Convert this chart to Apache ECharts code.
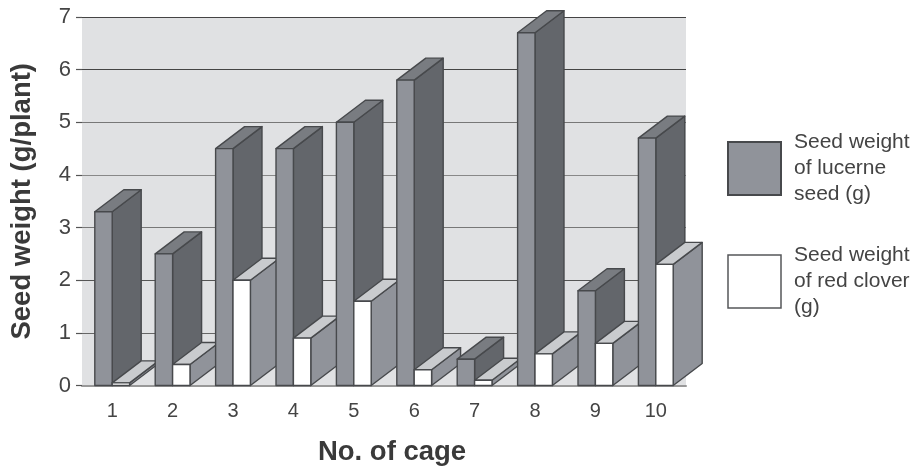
<!DOCTYPE html>
<html>
<head>
<meta charset="utf-8">
<style>html,body{margin:0;padding:0;background:#fff}#c{width:916px;height:469px}</style>
<script src="https://cdn.jsdelivr.net/npm/echarts@6/dist/echarts.min.js"></script>
</head>
<body>
<div id="c"></div>
<script>
const cages = ['1','2','3','4','5','6','7','8','9','10'];
const lucerne = [3.3,2.5,4.5,4.5,5.0,5.8,0.5,6.7,1.8,4.7];
const clover = [0.05,0.4,2.0,0.9,1.6,0.3,0.1,0.6,0.8,2.3];
const yTicks = [0,1,2,3,4,5,6,7];

const FONT = '"Liberation Sans", Arial, sans-serif';
const EDGE = '#47494c';
const GRAY = '#90939a';

function box3d(side, colors, order) {
  return function (params, api) {
    const idx = api.value(0);
    const base = api.coord([idx, 0]);
    const top = api.coord([idx, api.value(1)]);
    const band = api.size([1, 0])[0];
    const w = band * 0.288;
    const dx = band * 0.48;
    const dy = 22;
    const x0 = side < 0 ? base[0] - w : base[0];
    const x1 = x0 + w;
    const style = c => ({ fill: c, stroke: EDGE, lineWidth: 1.4, lineJoin: 'round' });
    const z2 = idx * 2 + order;
    const poly = (pts, c) => ({ type: 'polygon', z2, shape: { points: pts }, style: style(c) });
    return {
      type: 'group',
      children: [
        poly([[x1, top[1]], [x1 + dx, top[1] - dy], [x1 + dx, base[1] - dy], [x1, base[1]]], colors.side),
        poly([[x0, top[1]], [x0 + dx, top[1] - dy], [x1 + dx, top[1] - dy], [x1, top[1]]], colors.top),
        poly([[x0, top[1]], [x1, top[1]], [x1, base[1]], [x0, base[1]]], colors.front)
      ]
    };
  };
}

const chart = echarts.init(document.getElementById('c'), null, { renderer: 'canvas' });
chart.setOption({
  animation: false,
  textStyle: { fontFamily: FONT },
  grid: {
    show: true, left: 82, right: 230, top: 17, bottom: 83.5,
    outerBoundsMode: 'none', containLabel: false,
    backgroundColor: '#e0e1e3', borderWidth: 0
  },
  legend: {
    orient: 'vertical', left: 722, top: 124.5, itemWidth: 53, itemHeight: 53, itemGap: 35,
    selectedMode: false,
    textStyle: { fontFamily: FONT, fontSize: 21, color: '#444', lineHeight: 26, padding: [0, 0, 0, 8] },
    data: [
      { name: 'Seed weight\nof lucerne\nseed (g)', icon: 'rect',
        itemStyle: { color: GRAY, borderColor: EDGE, borderWidth: 2 } },
      { name: 'Seed weight\nof red clover\n(g)', icon: 'rect',
        itemStyle: { color: '#fff', borderColor: '#55575a', borderWidth: 1.5 } }
    ]
  },
  xAxis: {
    type: 'category', data: cages,
    name: 'No. of cage', nameLocation: 'middle', nameGap: 53,
    nameTextStyle: { fontFamily: FONT, fontSize: 27.5, fontWeight: 'bold', color: '#3a3a3a', padding: [0, 0, 0, 16] },
    axisLine: { show: true, lineStyle: { color: '#999', width: 2 } },
    axisTick: { show: false },
    axisLabel: { fontFamily: FONT, fontSize: 20, color: '#444', margin: 16 }
  },
  yAxis: {
    type: 'value', min: yTicks[0], max: yTicks[yTicks.length - 1], interval: 1,
    name: 'Seed weight (g/plant)', nameLocation: 'middle', nameGap: 46,
    nameTextStyle: { fontFamily: FONT, fontSize: 27.5, fontWeight: 'bold', color: '#3a3a3a' },
    axisLine: { show: false },
    axisTick: { show: true, length: 6, lineStyle: { color: '#555', width: 1.2 } },
    axisLabel: { fontFamily: FONT, fontSize: 22, color: '#444', margin: 11 },
    splitLine: { show: true, lineStyle: { color: ['#999','#666','#555','#777','#888','#777','#444','#444'], width: 1.2 } }
  },
  series: [
    {
      type: 'custom', name: 'Seed weight\nof lucerne\nseed (g)', encode: { x: 0, y: 1 }, clip: false,
      itemStyle: { color: GRAY },
      renderItem: box3d(-1, { front: GRAY, side: '#63666b', top: '#797c81' }, 0),
      data: lucerne.map((v, i) => [i, v])
    },
    {
      type: 'custom', name: 'Seed weight\nof red clover\n(g)', encode: { x: 0, y: 1 }, clip: false,
      itemStyle: { color: '#fff' },
      renderItem: box3d(1, { front: '#ffffff', side: GRAY, top: '#c9cbce' }, 1),
      data: clover.map((v, i) => [i, v])
    }
  ]
});
</script>
</body>
</html>
